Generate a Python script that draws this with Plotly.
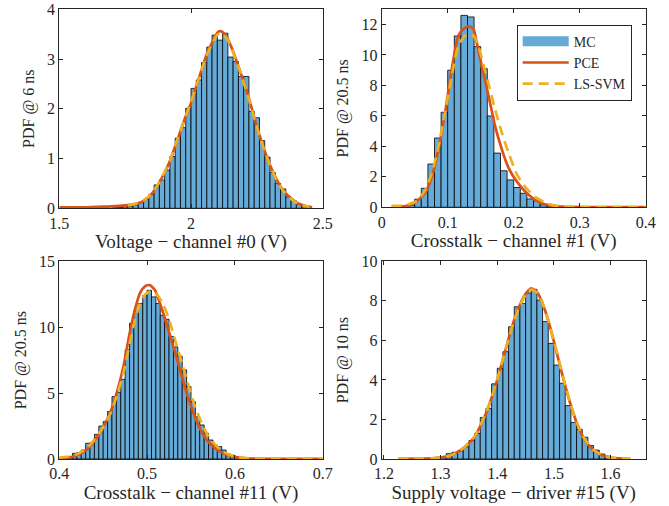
import plotly.graph_objects as go

# ---------------- DATA ----------------
# Panel 1 : Voltage - channel #0
p1_bin_width = 0.02
p1_bin_left = [1.56, 1.62, 1.64, 1.66, 1.70, 1.72, 1.74, 1.76, 1.78, 1.80, 1.82, 1.84, 1.86, 1.88,
               1.90, 1.92, 1.94, 1.96, 1.98, 2.00, 2.02, 2.04, 2.06, 2.08, 2.10, 2.12, 2.14,
               2.16, 2.18, 2.20, 2.22, 2.24, 2.26, 2.28, 2.30, 2.32, 2.34, 2.36, 2.38, 2.40, 2.42]
p1_mc = [0.01, 0.02, 0.03, 0.02, 0.01, 0.02, 0.03, 0.04, 0.07, 0.12, 0.18, 0.28, 0.47, 0.57,
         0.77, 1.04, 1.41, 1.62, 2.01, 2.41, 2.58, 2.93, 3.24, 3.48, 3.38, 3.52, 3.04,
         2.95, 2.65, 2.65, 1.95, 1.82, 1.36, 1.03, 0.72, 0.50, 0.39, 0.23, 0.15, 0.08, 0.03]
p1_pce_x = [1.50, 1.55, 1.60, 1.65, 1.70, 1.75, 1.78, 1.80, 1.82, 1.84, 1.86, 1.88, 1.90, 1.92,
            1.94, 1.96, 1.98, 2.00, 2.02, 2.04, 2.06, 2.08, 2.10, 2.11, 2.12, 2.14, 2.16,
            2.18, 2.20, 2.22, 2.24, 2.26, 2.28, 2.30, 2.32, 2.34, 2.36, 2.38, 2.40, 2.42, 2.44, 2.46]
p1_pce_y = [0.02, 0.02, 0.02, 0.03, 0.04, 0.06, 0.08, 0.10, 0.15, 0.23, 0.35, 0.52, 0.72, 0.95,
            1.25, 1.55, 1.85, 2.12, 2.45, 2.78, 3.10, 3.33, 3.53, 3.56, 3.54, 3.40, 3.15,
            2.85, 2.55, 2.21, 1.83, 1.47, 1.15, 0.87, 0.63, 0.44, 0.30, 0.20, 0.12, 0.07, 0.04, 0.02]
p1_ls_x = [1.76, 1.78, 1.80, 1.82, 1.84, 1.86, 1.88, 1.90, 1.92, 1.94, 1.96, 1.98, 2.00, 2.02,
           2.04, 2.06, 2.08, 2.10, 2.11, 2.12, 2.14, 2.16, 2.18, 2.20, 2.22, 2.24, 2.26,
           2.28, 2.30, 2.32, 2.34, 2.36, 2.38, 2.40, 2.42, 2.45]
p1_ls_y = [0.06, 0.08, 0.11, 0.16, 0.24, 0.36, 0.53, 0.73, 0.96, 1.26, 1.56, 1.86, 2.13, 2.46,
           2.78, 3.08, 3.30, 3.49, 3.52, 3.51, 3.38, 3.13, 2.84, 2.53, 2.19, 1.82, 1.46,
           1.14, 0.86, 0.62, 0.43, 0.29, 0.19, 0.11, 0.06, 0.03]

# Panel 2 : Crosstalk - channel #1
p2_bin_width = 0.01
p2_bin_left = [0.03, 0.04, 0.05, 0.06, 0.07, 0.08, 0.09, 0.10, 0.11, 0.12, 0.13, 0.14, 0.15,
               0.16, 0.17, 0.18, 0.19, 0.20, 0.21, 0.22, 0.23, 0.24, 0.25, 0.26]
p2_mc = [0.05, 0.15, 0.53, 1.25, 2.84, 4.55, 6.24, 9.0, 11.25, 12.6, 12.5, 10.55, 9.1,
         6.0, 3.56, 2.4, 1.8, 1.3, 0.92, 0.55, 0.43, 0.17, 0.08, 0.04]
p2_pce_x = [0.015, 0.03, 0.04, 0.05, 0.056, 0.066, 0.076, 0.086, 0.096, 0.106, 0.116, 0.124,
            0.131, 0.139, 0.144, 0.1515, 0.162, 0.172, 0.182, 0.192, 0.2045, 0.22, 0.237,
            0.258, 0.28, 0.32, 0.36, 0.40]
p2_pce_y = [0.03, 0.05, 0.12, 0.30, 0.50, 0.95, 2.0, 3.8, 6.2, 9.05, 11.25, 11.7,
            11.9, 11.7, 10.8, 9.3, 7.3, 5.3, 3.8, 2.6, 1.7, 0.92, 0.37,
            0.09, 0.03, 0.02, 0.01, 0.01]
p2_ls_x = [0.015, 0.03, 0.04, 0.05, 0.0555, 0.066, 0.076, 0.086, 0.096, 0.106, 0.116, 0.126,
           0.136, 0.144, 0.157, 0.172, 0.182, 0.192, 0.2045, 0.217, 0.232, 0.2525, 0.27,
           0.30, 0.35, 0.40]
p2_ls_y = [0.10, 0.12, 0.20, 0.35, 0.50, 1.14, 2.24, 4.0, 6.2, 8.6, 10.6, 11.25,
           11.4, 10.9, 8.9, 6.4, 4.9, 3.6, 2.2, 1.36, 0.70, 0.22, 0.06,
           0.02, 0.01, 0.01]

# Panel 3 : Crosstalk - channel #11
p3_bin_width = 0.005
p3_bin_left = [0.405, 0.41, 0.415, 0.42, 0.425, 0.43, 0.435, 0.44, 0.445, 0.45, 0.455, 0.46,
               0.465, 0.47, 0.475, 0.48, 0.485, 0.49, 0.495, 0.50, 0.505, 0.51, 0.515, 0.52,
               0.525, 0.53, 0.535, 0.54, 0.545, 0.55, 0.555, 0.56, 0.565, 0.57, 0.575, 0.58,
               0.585, 0.59, 0.595, 0.60]
p3_mc = [0.05, 0.1, 0.43, 0.5, 0.68, 1.19, 1.24, 1.87, 2.5, 2.84, 3.6, 4.73,
         5.06, 6.05, 8.28, 10.3, 11.3, 11.8, 12.4, 12.8, 12.3, 11.8, 10.9, 10.6,
         9.3, 8.5, 7.8, 6.76, 5.5, 4.35, 3.2, 2.58, 1.95, 1.44, 1.06, 0.94,
         0.68, 0.38, 0.28, 0.12]
p3_pce_x = [0.400, 0.416, 0.431, 0.446, 0.4577, 0.4653, 0.473, 0.480, 0.486, 0.492, 0.4976,
            0.503, 0.509, 0.5147, 0.522, 0.530, 0.5375, 0.545, 0.553, 0.560, 0.568, 0.575,
            0.583, 0.590, 0.598, 0.61, 0.62, 0.65, 0.70]
p3_pce_y = [0.05, 0.18, 0.68, 1.95, 3.47, 5.0, 7.0, 9.5, 11.3, 12.6, 13.1,
            13.2, 12.8, 11.8, 10.3, 8.5, 6.76, 5.0, 3.47, 2.33, 1.44, 0.94,
            0.56, 0.35, 0.18, 0.07, 0.03, 0.01, 0.01]
p3_ls_x = [0.400, 0.416, 0.431, 0.446, 0.458, 0.465, 0.473, 0.480, 0.486, 0.492, 0.498,
           0.505, 0.511, 0.517, 0.524, 0.532, 0.540, 0.548, 0.555, 0.563, 0.570, 0.578,
           0.585, 0.593, 0.600, 0.61, 0.62, 0.65, 0.70]
p3_ls_y = [0.10, 0.25, 0.80, 2.0, 3.4, 4.7, 6.5, 8.7, 10.5, 11.8, 12.5,
           12.75, 12.5, 11.9, 10.8, 9.0, 7.2, 5.4, 3.9, 2.6, 1.7, 1.05,
           0.62, 0.35, 0.20, 0.08, 0.03, 0.01, 0.01]

# Panel 4 : Supply voltage - driver #15
p4_bin_width = 0.01
p4_bin_left = [1.30, 1.31, 1.32, 1.33, 1.34, 1.35, 1.36, 1.37, 1.38, 1.39, 1.40, 1.41, 1.42,
               1.43, 1.44, 1.45, 1.46, 1.47, 1.48, 1.49, 1.50, 1.51, 1.52, 1.53, 1.54, 1.55,
               1.56, 1.57, 1.58, 1.59, 1.60, 1.61]
p4_mc = [0.12, 0.27, 0.34, 0.42, 0.62, 0.93, 1.30, 2.10, 2.56, 3.80, 4.59, 5.43, 6.69,
         7.70, 7.87, 8.40, 8.58, 8.04, 6.95, 5.85, 4.75, 3.83, 2.70, 1.85, 1.50, 1.10,
         0.68, 0.45, 0.25, 0.14, 0.07, 0.03]
p4_pce_x = [1.225, 1.26, 1.29, 1.31, 1.32, 1.33, 1.34, 1.36, 1.38, 1.39, 1.40, 1.41, 1.42,
            1.43, 1.44, 1.45, 1.46, 1.47, 1.48, 1.49, 1.50, 1.51, 1.52, 1.53, 1.54, 1.55,
            1.56, 1.57, 1.58, 1.59, 1.60, 1.62, 1.635]
p4_pce_y = [0.01, 0.02, 0.05, 0.12, 0.20, 0.35, 0.54, 1.13, 2.30, 3.10, 4.00, 5.05, 6.10,
            7.05, 7.80, 8.35, 8.63, 8.45, 7.87, 7.00, 5.94, 4.80, 3.70, 2.70, 1.85, 1.20,
            0.75, 0.45, 0.26, 0.14, 0.07, 0.02, 0.01]
p4_ls_x = [1.225, 1.26, 1.29, 1.31, 1.32, 1.33, 1.34, 1.36, 1.38, 1.39, 1.40, 1.41, 1.42,
           1.43, 1.44, 1.45, 1.46, 1.47, 1.48, 1.49, 1.50, 1.51, 1.52, 1.53, 1.54, 1.55,
           1.56, 1.57, 1.58, 1.59, 1.60, 1.62, 1.635]
p4_ls_y = [0.01, 0.02, 0.05, 0.12, 0.21, 0.36, 0.55, 1.15, 2.32, 3.12, 4.02, 5.05, 6.08,
           7.02, 7.76, 8.30, 8.57, 8.42, 7.87, 7.02, 5.97, 4.84, 3.74, 2.73, 1.88, 1.22,
           0.77, 0.46, 0.27, 0.15, 0.07, 0.02, 0.01]

# Axes text
x_titles = ["Voltage − channel #0 (V)", "Crosstalk − channel #1 (V)",
            "Crosstalk − channel #11 (V)", "Supply voltage − driver #15 (V)"]
y_titles = ["PDF @ 6 ns", "PDF @ 20.5 ns", "PDF @ 20.5 ns", "PDF @ 10 ns"]
x_ranges = [[1.5, 2.5], [0, 0.4], [0.4, 0.7], [1.196, 1.662]]
y_ranges = [[0, 4], [0, 13], [0, 15], [0, 10]]
x_ticks = [[1.5, 2, 2.5], [0, 0.1, 0.2, 0.3, 0.4], [0.4, 0.5, 0.6, 0.7], [1.2, 1.3, 1.4, 1.5, 1.6]]
x_ticktext = [["1.5", "2", "2.5"], ["0", "0.1", "0.2", "0.3", "0.4"],
              ["0.4", "0.5", "0.6", "0.7"], ["1.2", "1.3", "1.4", "1.5", "1.6"]]
y_ticks = [[0, 1, 2, 3, 4], [0, 2, 4, 6, 8, 10, 12], [0, 5, 10, 15], [0, 2, 4, 6, 8, 10]]
legend_names = ["MC", "PCE", "LS-SVM"]

# ---------------- STYLE ----------------
W, H = 669, 506
BAR_COLOR = "rgb(102,170,215)"
PCE_COLOR = "#D95319"
LS_COLOR = "#EDB120"
AX_COLOR = "rgb(38,38,38)"
FONT = "Liberation Serif"
TICK_SIZE = 16
XT_SIZE = 19
YT_SIZE = 16

# plot-area boxes in page pixels (left, right, top, bottom)
boxes = [(59.3, 322.7, 9.3, 208.3), (381.7, 645.7, 9.3, 207.3),
         (59.3, 322.7, 261.3, 459.0), (381.7, 645.7, 261.3, 459.0)]

panels = [
    (p1_bin_left, p1_mc, p1_bin_width, p1_pce_x, p1_pce_y, p1_ls_x, p1_ls_y),
    (p2_bin_left, p2_mc, p2_bin_width, p2_pce_x, p2_pce_y, p2_ls_x, p2_ls_y),
    (p3_bin_left, p3_mc, p3_bin_width, p3_pce_x, p3_pce_y, p3_ls_x, p3_ls_y),
    (p4_bin_left, p4_mc, p4_bin_width, p4_pce_x, p4_pce_y, p4_ls_x, p4_ls_y),
]


def fx(px):
    return px / W


def fy(py):
    return 1 - py / H


fig = go.Figure()
layout = dict(
    width=W, height=H, margin=dict(l=0, r=0, t=0, b=0, autoexpand=False),
    paper_bgcolor="white", plot_bgcolor="white",
    font=dict(family=FONT, size=TICK_SIZE, color=AX_COLOR),
    barmode="overlay", bargap=0, showlegend=True, hovermode=False,
    legend=dict(x=fx(516.7), y=fy(24.7), xanchor="left", yanchor="top",
                bgcolor="white", bordercolor=AX_COLOR, borderwidth=1,
                font=dict(family=FONT, size=14, color=AX_COLOR),
                tracegroupgap=0, itemwidth=46, traceorder="normal"),
)

for i, (bl, mc, bw, px, py, lx, ly) in enumerate(panels):
    n = i + 1
    xa = "x" if n == 1 else f"x{n}"
    ya = "y" if n == 1 else f"y{n}"
    centers = [b + bw / 2 for b in bl]
    fig.add_trace(go.Bar(x=centers, y=mc, width=[bw] * len(bl), xaxis=xa, yaxis=ya,
                         marker=dict(color=BAR_COLOR, line=dict(color="black", width=0.8)),
                         name=legend_names[0], showlegend=False))
    fig.add_trace(go.Scatter(x=px, y=py, mode="lines", xaxis=xa, yaxis=ya,
                             line=dict(color=PCE_COLOR, width=2.7, shape="spline", smoothing=0.6),
                             name=legend_names[1], showlegend=(i == 1), legendrank=2))
    fig.add_trace(go.Scatter(x=lx, y=ly, mode="lines", xaxis=xa, yaxis=ya,
                             line=dict(color=LS_COLOR, width=2.7, dash="10px,6px",
                                       shape="spline", smoothing=0.6),
                             name=legend_names[2], showlegend=(i == 1), legendrank=3))

    l, r, t, b = boxes[i]
    axis_common = dict(showline=True, linecolor=AX_COLOR, linewidth=1, mirror="ticks",
                       ticks="inside", ticklen=4, tickwidth=1, tickcolor=AX_COLOR,
                       showgrid=False, zeroline=False, automargin=False,
                       tickfont=dict(family=FONT, size=TICK_SIZE, color=AX_COLOR))
    layout["xaxis" if n == 1 else f"xaxis{n}"] = dict(
        axis_common, domain=[fx(l), fx(r)], range=x_ranges[i], anchor=ya,
        tickvals=x_ticks[i], ticktext=x_ticktext[i],
        title=dict(text=x_titles[i], standoff=3, font=dict(family=FONT, size=XT_SIZE, color=AX_COLOR)))
    layout["yaxis" if n == 1 else f"yaxis{n}"] = dict(
        axis_common, domain=[fy(b), fy(t)], range=y_ranges[i], anchor=xa,
        tickvals=y_ticks[i],
        title=dict(text=y_titles[i], standoff=8, font=dict(family=FONT, size=YT_SIZE, color=AX_COLOR)))

# legend entry for the MC histogram: a wide blue swatch (legend only, no data drawn)
fig.add_trace(go.Scatter(x=[None], y=[None], mode="lines", xaxis="x2", yaxis="y2",
                         line=dict(color=BAR_COLOR, width=12),
                         name=legend_names[0], showlegend=True, legendrank=1))

fig.update_layout(**layout)
# remove the browser's default 8px page margin so the figure fills the window exactly
fig.write_html("out.html", config={"displayModeBar": False, "staticPlot": True},
               post_script="document.body.style.margin='0';")
